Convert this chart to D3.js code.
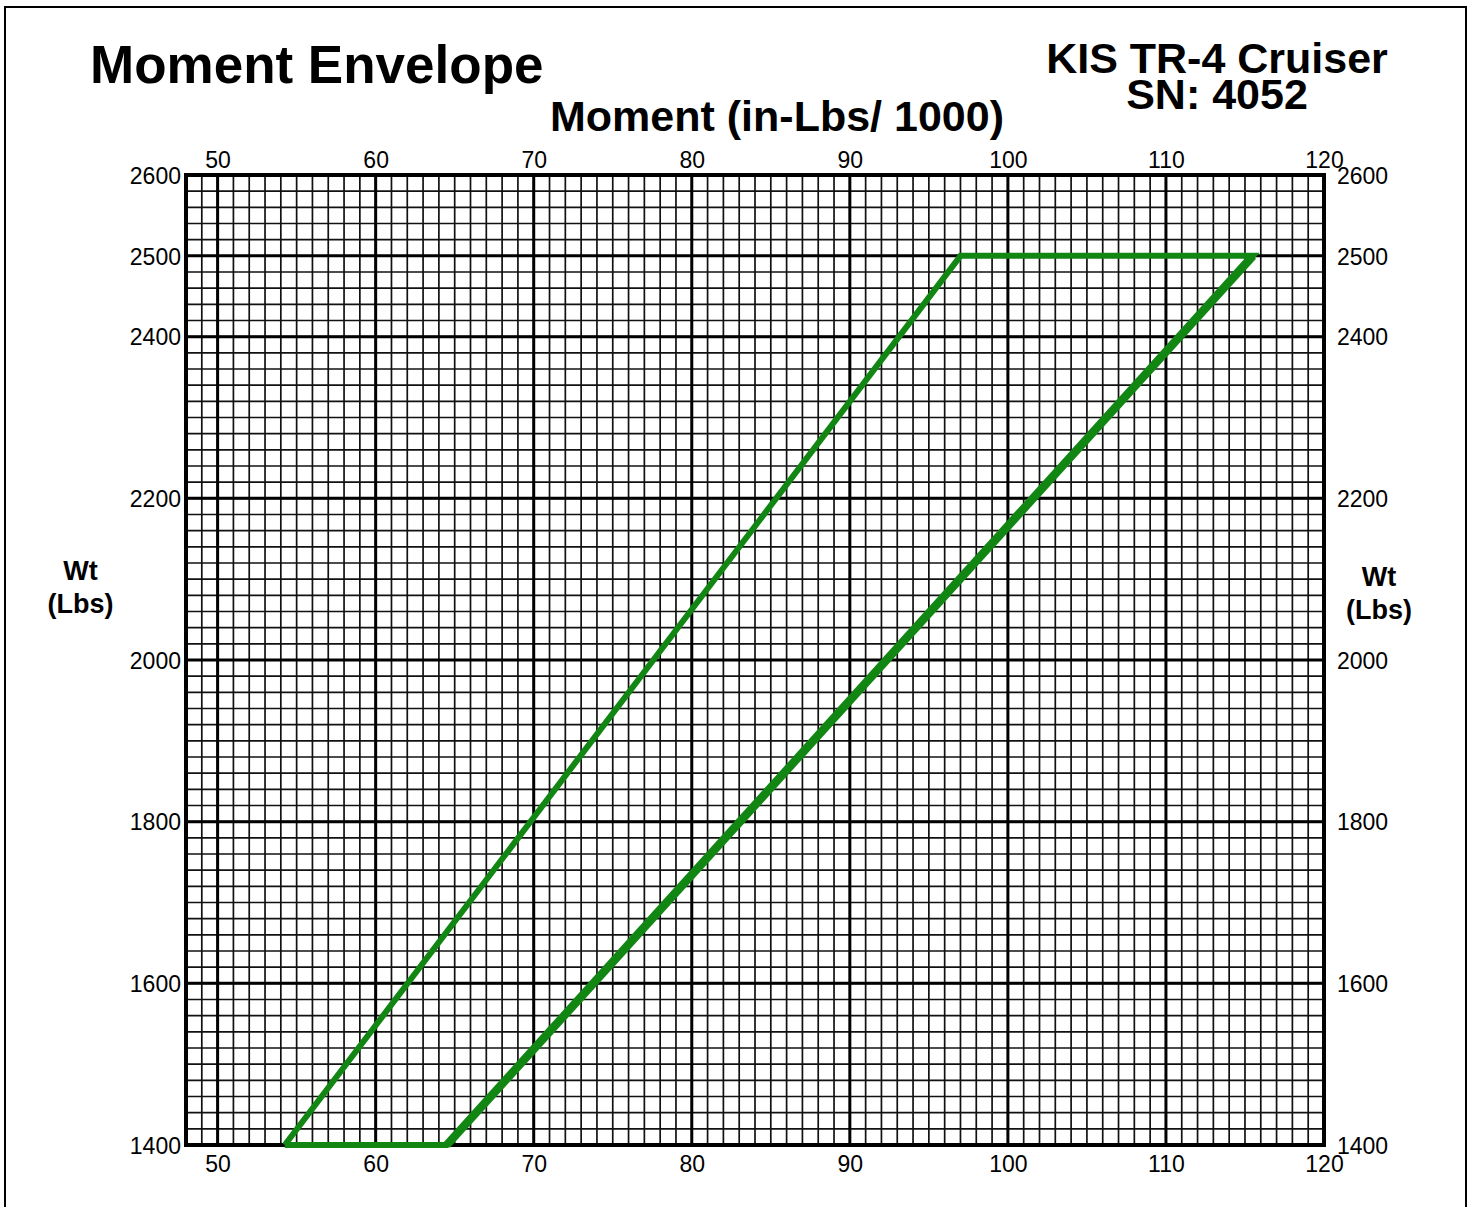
<!DOCTYPE html>
<html>
<head>
<meta charset="utf-8">
<script src="https://cdn.jsdelivr.net/npm/d3@7"></script>
<style>
  html, body { margin: 0; padding: 0; background: #fff; }
  svg { display: block; }
  text { font-family: "Liberation Sans", Arial, sans-serif; fill: #000; }
</style>
</head>
<body>
<svg id="chart" width="1474" height="1207"></svg>
<script>
// ---- data ----
const title = "Moment Envelope";
const xAxisTitle = "Moment (in-Lbs/ 1000)";
const aircraftLines = ["KIS TR-4 Cruiser", "SN: 4052"];
const yAxisTitleLines = ["Wt", "(Lbs)"];
const xTickValues = [50, 60, 70, 80, 90, 100, 110, 120];
const yTickValues = [1400, 1600, 1800, 2000, 2200, 2400, 2500, 2600];
const xDomain = [48, 120];
const yDomain = [1400, 2600];
const xMinorStep = 1;
const yMinorStep = 20;
// envelope vertices: [moment, weight]
const envelopeMoment = [54.25, 64.5, 115.5, 97.0];
const envelopeWeight = [1400, 1400, 2500, 2500];

// ---- layout ----
const svg = d3.select("#chart");
const pL = 186, pR = 1324, pT = 175, pB = 1145;
const x = d3.scaleLinear().domain(xDomain).range([pL, pR]);
const y = d3.scaleLinear().domain(yDomain).range([pB, pT]);
const green = "#128612";

// outer frame
svg.append("rect").attr("x", 5).attr("y", 7).attr("width", 1461).attr("height", 1210)
  .attr("fill", "none").attr("stroke", "#000").attr("stroke-width", 2);

const g = svg.append("g");

// minor grid
const xMinor = d3.range(xDomain[0], xDomain[1] + 0.001, xMinorStep);
const yMinor = d3.range(yDomain[0], yDomain[1] + 0.001, yMinorStep);
g.append("g").selectAll("line").data(xMinor).join("line")
  .attr("x1", d => x(d)).attr("x2", d => x(d)).attr("y1", pT).attr("y2", pB)
  .attr("stroke", "#111").attr("stroke-width", 1.7);
g.append("g").selectAll("line").data(yMinor).join("line")
  .attr("y1", d => y(d)).attr("y2", d => y(d)).attr("x1", pL).attr("x2", pR)
  .attr("stroke", "#111").attr("stroke-width", 1.7);

// major grid
g.append("g").selectAll("line").data(xTickValues).join("line")
  .attr("x1", d => x(d)).attr("x2", d => x(d)).attr("y1", pT).attr("y2", pB)
  .attr("stroke", "#000").attr("stroke-width", 3);
g.append("g").selectAll("line").data(yTickValues).join("line")
  .attr("y1", d => y(d)).attr("y2", d => y(d)).attr("x1", pL).attr("x2", pR)
  .attr("stroke", "#000").attr("stroke-width", 3);

// plot frame
g.append("rect").attr("x", pL).attr("y", pT).attr("width", pR - pL).attr("height", pB - pT)
  .attr("fill", "none").attr("stroke", "#000").attr("stroke-width", 4);

// axes (labels only, via d3 axes)
const fs = 23;
const fmt = d3.format("d");
const topAxis = d3.axisTop(x).tickValues(xTickValues).tickFormat(fmt).tickSize(0).tickPadding(0);
const botAxis = d3.axisBottom(x).tickValues(xTickValues).tickFormat(fmt).tickSize(0).tickPadding(0);
const leftAxis = d3.axisLeft(y).tickValues(yTickValues).tickFormat(fmt).tickSize(0).tickPadding(0);
const rightAxis = d3.axisRight(y).tickValues(yTickValues).tickFormat(fmt).tickSize(0).tickPadding(0);

function styleAxis(sel) {
  sel.select(".domain").remove();
  sel.selectAll("text").attr("font-size", fs).attr("font-family", "'Liberation Sans', Arial, sans-serif").attr("fill", "#000");
}
svg.append("g").attr("transform", `translate(0,${pT - 7})`).call(topAxis).call(styleAxis)
  .selectAll("text").attr("dy", 0);
svg.append("g").attr("transform", `translate(0,${pB + 27})`).call(botAxis).call(styleAxis)
  .selectAll("text").attr("dy", 0);
svg.append("g").attr("transform", `translate(${pL - 5},0)`).call(leftAxis).call(styleAxis)
  .selectAll("text").attr("dy", "0.36em");
svg.append("g").attr("transform", `translate(${pR + 13},0)`).call(rightAxis).call(styleAxis)
  .selectAll("text").attr("dy", "0.36em");

// envelope
const pts = envelopeMoment.map((m, i) => [x(m), y(envelopeWeight[i])]);
svg.append("path")
  .attr("d", d3.line()(pts.concat([pts[0]])))
  .attr("fill", "none").attr("stroke", green).attr("stroke-width", 6)
  .attr("stroke-linejoin", "miter");
// aft (right) boundary is drawn heavier
svg.append("path")
  .attr("d", d3.line()([pts[1], pts[2]]))
  .attr("fill", "none").attr("stroke", green).attr("stroke-width", 8.5);

// titles
svg.append("text").attr("x", 90).attr("y", 83).attr("font-size", 53).attr("font-weight", "bold")
  .text(title);
svg.append("text").attr("x", 777).attr("y", 131).attr("text-anchor", "middle")
  .attr("font-size", 43).attr("font-weight", "bold").text(xAxisTitle);
const acText = svg.append("text").attr("text-anchor", "middle")
  .attr("font-size", 43).attr("font-weight", "bold");
acText.selectAll("tspan").data(aircraftLines).join("tspan")
  .attr("x", 1217).attr("y", (d, i) => 73 + i * 36).text(d => d);

// y axis titles both sides
[[80.5, 580], [1379, 586]].forEach(([cx, by]) => {
  const t = svg.append("text").attr("text-anchor", "middle")
    .attr("font-size", 27).attr("font-weight", "bold");
  t.selectAll("tspan").data(yAxisTitleLines).join("tspan")
    .attr("x", cx).attr("y", (d, i) => by + i * 33).text(d => d);
});
</script>
</body>
</html>
